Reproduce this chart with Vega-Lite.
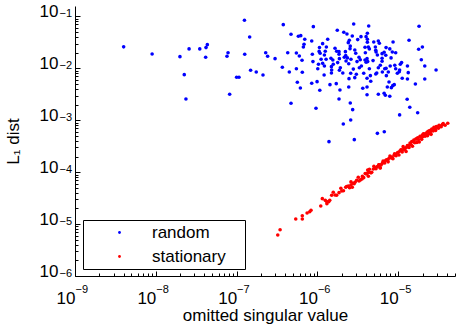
{
  "$schema": "https://vega.github.io/schema/vega-lite/v6.json",
  "width": 380,
  "height": 270,
  "autosize": {"type": "none"},
  "padding": {"left": 75, "top": 6, "right": 1, "bottom": 49},
  "background": "white",
  "config": {
    "view": {"stroke": null},
    "axis": {"labelFont": "Liberation Sans", "titleFont": "Liberation Sans", "labelColor": "black", "titleColor": "black", "grid": false, "domainColor": "black", "tickColor": "black", "labelFontSize": 17, "titleFontSize": 17, "titleFontWeight": "normal", "tickWidth": 1, "domainWidth": 1}
  },
  "data": {"values": [
    {"series":"random","sv":4.0e-9,"l1":2.6e-2},{"series":"random","sv":9.0e-9,"l1":1.89e-2},{"series":"random","sv":1.99e-8,"l1":1.68e-2},{"series":"random","sv":2.58e-8,"l1":2.37e-2},{"series":"random","sv":3.5e-8,"l1":2.37e-2},{"series":"random","sv":4.18e-8,"l1":2.51e-2},{"series":"random","sv":4.34e-8,"l1":2.86e-2},{"series":"random","sv":4.14e-8,"l1":1.64e-2},{"series":"random","sv":7.83e-8,"l1":2.0e-2},{"series":"random","sv":7.6e-8,"l1":1.71e-2},
    {"series":"random","sv":2.25e-8,"l1":7.56e-3},{"series":"random","sv":2.36e-8,"l1":2.57e-3},{"series":"random","sv":1.0e-7,"l1":6.74e-3},{"series":"random","sv":1.07e-7,"l1":6.74e-3},{"series":"random","sv":8.2e-8,"l1":3.17e-3},{"series":"random","sv":1.25e-7,"l1":8.44e-2},{"series":"random","sv":3.78e-7,"l1":6.95e-2},{"series":"random","sv":8.9e-7,"l1":6.36e-2},{"series":"random","sv":1.45e-7,"l1":4.03e-2},{"series":"random","sv":4.71e-7,"l1":4.54e-2},
    {"series":"random","sv":5.81e-7,"l1":4.15e-2},{"series":"random","sv":6.22e-7,"l1":4.27e-2},{"series":"random","sv":6.97e-7,"l1":3.64e-2},{"series":"random","sv":8.5e-7,"l1":3.37e-2},{"series":"random","sv":6.83e-7,"l1":2.91e-2},{"series":"random","sv":6.7e-7,"l1":2.58e-2},{"series":"random","sv":1.06e-6,"l1":2.53e-2},{"series":"random","sv":1.26e-7,"l1":1.87e-2},{"series":"random","sv":2.29e-7,"l1":2.0e-2},{"series":"random","sv":2.42e-7,"l1":1.71e-2},
    {"series":"random","sv":2.99e-7,"l1":1.54e-2},{"series":"random","sv":4.29e-7,"l1":2.0e-2},{"series":"random","sv":5.49e-7,"l1":1.98e-2},{"series":"random","sv":5.97e-7,"l1":1.73e-2},{"series":"random","sv":6.45e-7,"l1":1.43e-2},{"series":"random","sv":8.65e-7,"l1":1.87e-2},{"series":"random","sv":8.8e-7,"l1":1.35e-2},{"series":"random","sv":1.05e-6,"l1":2.12e-2},{"series":"random","sv":3.68e-7,"l1":1.05e-2},{"series":"random","sv":4.49e-7,"l1":8.53e-3},
    {"series":"random","sv":5.49e-7,"l1":9.85e-3},{"series":"random","sv":6.5e-7,"l1":8.41e-3},{"series":"random","sv":1.01e-6,"l1":9.85e-3},{"series":"random","sv":1.49e-7,"l1":9.19e-3},{"series":"random","sv":1.75e-7,"l1":8.53e-3},{"series":"random","sv":2.12e-7,"l1":7.47e-3},{"series":"random","sv":4.71e-7,"l1":2.13e-3},{"series":"random","sv":5.64e-7,"l1":5.4e-3},{"series":"random","sv":6.15e-7,"l1":4.19e-3},{"series":"random","sv":8.5e-7,"l1":5.16e-3},
    {"series":"random","sv":9.9e-7,"l1":5.54e-3},{"series":"random","sv":1.07e-6,"l1":3.79e-3},{"series":"random","sv":9.6e-7,"l1":1.7e-3},{"series":"random","sv":2.81e-6,"l1":7.17e-2},{"series":"random","sv":4.31e-6,"l1":6.56e-2},{"series":"random","sv":1.76e-6,"l1":5.42e-2},{"series":"random","sv":2.12e-6,"l1":4.96e-2},{"series":"random","sv":2.32e-6,"l1":4.6e-2},{"series":"random","sv":2.7e-6,"l1":4.21e-2},{"series":"random","sv":3.46e-6,"l1":4.08e-2},
    {"series":"random","sv":4.0e-6,"l1":4.08e-2},{"series":"random","sv":4.15e-6,"l1":4.74e-2},{"series":"random","sv":1.34e-6,"l1":3.64e-2},{"series":"random","sv":1.16e-6,"l1":2.99e-2},{"series":"random","sv":2.48e-6,"l1":3.48e-2},{"series":"random","sv":2.41e-6,"l1":3.13e-2},{"series":"random","sv":3.15e-6,"l1":3.58e-2},{"series":"random","sv":4.15e-6,"l1":3.64e-2},{"series":"random","sv":4.15e-6,"l1":3.18e-2},{"series":"random","sv":4.98e-6,"l1":3.22e-2},
    {"series":"random","sv":5.67e-6,"l1":3.37e-2},{"series":"random","sv":5.84e-6,"l1":3.04e-2},{"series":"random","sv":8.63e-6,"l1":3.22e-2},{"series":"random","sv":2.55e-6,"l1":2.7e-2},{"series":"random","sv":2.53e-6,"l1":2.4e-2},{"series":"random","sv":1.29e-6,"l1":2.58e-2},{"series":"random","sv":1.65e-6,"l1":2.44e-2},{"series":"random","sv":3.88e-6,"l1":2.55e-2},{"series":"random","sv":4.27e-6,"l1":2.58e-2},{"series":"random","sv":4.39e-6,"l1":2.37e-2},
    {"series":"random","sv":5.21e-6,"l1":2.58e-2},{"series":"random","sv":5.27e-6,"l1":2.23e-2},{"series":"random","sv":7.07e-6,"l1":2.51e-2},{"series":"random","sv":7.86e-6,"l1":2.37e-2},{"series":"random","sv":8.45e-6,"l1":2.07e-2},{"series":"random","sv":1.08e-6,"l1":1.95e-2},{"series":"random","sv":1.25e-6,"l1":2.14e-2},{"series":"random","sv":1.22e-6,"l1":1.81e-2},{"series":"random","sv":1.73e-6,"l1":2.14e-2},{"series":"random","sv":1.85e-6,"l1":2.1e-2},
    {"series":"random","sv":1.85e-6,"l1":1.87e-2},{"series":"random","sv":2.22e-6,"l1":2.1e-2},{"series":"random","sv":2.24e-6,"l1":1.76e-2},{"series":"random","sv":2.9e-6,"l1":2.26e-2},{"series":"random","sv":2.98e-6,"l1":1.95e-2},{"series":"random","sv":3.92e-6,"l1":2.0e-2},{"series":"random","sv":5.32e-6,"l1":2.07e-2},{"series":"random","sv":5.52e-6,"l1":1.81e-2},{"series":"random","sv":6.31e-6,"l1":1.92e-2},{"series":"random","sv":6.69e-6,"l1":2.04e-2},
    {"series":"random","sv":7.01e-6,"l1":1.79e-2},{"series":"random","sv":9.3e-6,"l1":2.0e-2},{"series":"random","sv":1.11e-6,"l1":1.5e-2},{"series":"random","sv":1.28e-6,"l1":1.5e-2},{"series":"random","sv":1.47e-6,"l1":1.57e-2},{"series":"random","sv":1.55e-6,"l1":1.45e-2},{"series":"random","sv":1.87e-6,"l1":1.54e-2},{"series":"random","sv":2.15e-6,"l1":1.64e-2},{"series":"random","sv":2.35e-6,"l1":1.59e-2},{"series":"random","sv":2.26e-6,"l1":1.39e-2},
    {"series":"random","sv":2.6e-6,"l1":1.5e-2},{"series":"random","sv":3.27e-6,"l1":1.64e-2},{"series":"random","sv":3.39e-6,"l1":1.47e-2},{"series":"random","sv":3.88e-6,"l1":1.45e-2},{"series":"random","sv":4.11e-6,"l1":1.54e-2},{"series":"random","sv":4.19e-6,"l1":1.35e-2},{"series":"random","sv":4.0e-6,"l1":1.31e-2},{"series":"random","sv":4.88e-6,"l1":1.41e-2},{"series":"random","sv":6.31e-6,"l1":1.57e-2},{"series":"random","sv":6.31e-6,"l1":1.37e-2},
    {"series":"random","sv":8.15e-6,"l1":1.59e-2},{"series":"random","sv":1.03e-6,"l1":1.2e-2},{"series":"random","sv":1.16e-6,"l1":1.25e-2},{"series":"random","sv":1.22e-6,"l1":1.11e-2},{"series":"random","sv":1.49e-6,"l1":1.08e-2},{"series":"random","sv":1.57e-6,"l1":1.2e-2},{"series":"random","sv":1.78e-6,"l1":1.29e-2},{"series":"random","sv":2.44e-6,"l1":1.23e-2},{"series":"random","sv":3.09e-6,"l1":1.35e-2},{"series":"random","sv":3.5e-6,"l1":1.11e-2},
    {"series":"random","sv":6.0e-6,"l1":1.15e-2},{"series":"random","sv":5.67e-6,"l1":1.03e-2},{"series":"random","sv":7.95e-6,"l1":1.11e-2},{"series":"random","sv":7.07e-6,"l1":1.0e-2},{"series":"random","sv":6.81e-6,"l1":9.85e-3},{"series":"random","sv":9.06e-6,"l1":1.15e-2},{"series":"random","sv":9.3e-6,"l1":9.85e-3},{"series":"random","sv":9.75e-6,"l1":8.05e-3},{"series":"random","sv":1.03e-5,"l1":8.65e-3},{"series":"random","sv":1.5e-6,"l1":9.31e-3},
    {"series":"random","sv":1.92e-6,"l1":1.03e-2},{"series":"random","sv":1.87e-6,"l1":9.19e-3},{"series":"random","sv":2.78e-6,"l1":9.68e-3},{"series":"random","sv":3.3e-6,"l1":1.03e-2},{"series":"random","sv":4.39e-6,"l1":9.85e-3},{"series":"random","sv":1.21e-6,"l1":7.47e-3},{"series":"random","sv":1.49e-6,"l1":8.16e-3},{"series":"random","sv":2.06e-6,"l1":8.16e-3},{"series":"random","sv":2.58e-6,"l1":8.05e-3},{"series":"random","sv":3.03e-6,"l1":7.7e-3},
    {"series":"random","sv":3.74e-6,"l1":8.05e-3},{"series":"random","sv":4.52e-6,"l1":7.24e-3},{"series":"random","sv":5.27e-6,"l1":7.8e-3},{"series":"random","sv":5.42e-6,"l1":8.16e-3},{"series":"random","sv":6.36e-6,"l1":8.53e-3},{"series":"random","sv":7.54e-6,"l1":8.53e-3},{"series":"random","sv":2.46e-6,"l1":6.33e-3},{"series":"random","sv":2.9e-6,"l1":6.62e-3},{"series":"random","sv":4.11e-6,"l1":6.45e-3},{"series":"random","sv":1.81e-5,"l1":6.48e-2},
    {"series":"random","sv":1.36e-5,"l1":3.48e-2},{"series":"random","sv":1.79e-5,"l1":2.33e-2},{"series":"random","sv":1.99e-5,"l1":2.58e-2},{"series":"random","sv":1.93e-5,"l1":1.47e-2},{"series":"random","sv":2.13e-5,"l1":1.11e-2},{"series":"random","sv":2.94e-5,"l1":9.31e-3},{"series":"random","sv":1.1e-5,"l1":1.29e-2},{"series":"random","sv":1.06e-5,"l1":1.2e-2},{"series":"random","sv":1.3e-5,"l1":1.11e-2},{"series":"random","sv":1.04e-5,"l1":9.31e-3},
    {"series":"random","sv":1.33e-5,"l1":8.27e-3},{"series":"random","sv":1.12e-5,"l1":6.45e-3},{"series":"random","sv":1.3e-5,"l1":6.24e-3},{"series":"random","sv":2.13e-5,"l1":6.24e-3},{"series":"random","sv":1.43e-6,"l1":4.85e-3},{"series":"random","sv":1.71e-6,"l1":5.07e-3},{"series":"random","sv":1.9e-6,"l1":3.84e-3},{"series":"random","sv":2.44e-6,"l1":4.38e-3},{"series":"random","sv":4.57e-6,"l1":5.64e-3},{"series":"random","sv":7.13e-6,"l1":7.24e-3},
    {"series":"random","sv":7.69e-6,"l1":5.47e-3},{"series":"random","sv":7.33e-6,"l1":4.38e-3},{"series":"random","sv":8.22e-6,"l1":4.25e-3},{"series":"random","sv":8.55e-6,"l1":4.64e-3},{"series":"random","sv":8.93e-6,"l1":4.85e-3},{"series":"random","sv":3.64e-6,"l1":4.14e-3},{"series":"random","sv":4.11e-6,"l1":4.38e-3},{"series":"random","sv":4.11e-6,"l1":3.11e-3},{"series":"random","sv":5.67e-6,"l1":3.17e-3},{"series":"random","sv":6.69e-6,"l1":3.31e-3},
    {"series":"random","sv":6.93e-6,"l1":3.03e-3},{"series":"random","sv":7.86e-6,"l1":2.9e-3},{"series":"random","sv":1.85e-6,"l1":2.57e-3},{"series":"random","sv":2.55e-6,"l1":2.15e-3},{"series":"random","sv":2.73e-6,"l1":1.6e-3},{"series":"random","sv":1.04e-5,"l1":1.27e-3},{"series":"random","sv":2.58e-6,"l1":1.01e-3},{"series":"random","sv":2.09e-6,"l1":8.5e-4},{"series":"random","sv":5.52e-6,"l1":5.6e-4},{"series":"random","sv":6.72e-6,"l1":6.0e-4},
    {"series":"random","sv":1.39e-6,"l1":3.87e-4},{"series":"random","sv":2.86e-6,"l1":4.23e-4},{"series":"random","sv":1.63e-5,"l1":5.0e-3},{"series":"random","sv":1.29e-5,"l1":2.54e-3},{"series":"random","sv":1.39e-5,"l1":1.78e-3},{"series":"random","sv":1.74e-5,"l1":1.4e-3},
    {"series":"stationary","sv":3.23e-7,"l1":6.17e-6},{"series":"stationary","sv":3.45e-7,"l1":7.8e-6},{"series":"stationary","sv":5.39e-7,"l1":1.25e-5},{"series":"stationary","sv":6.5e-7,"l1":1.25e-5},{"series":"stationary","sv":6.5e-7,"l1":1.45e-5},{"series":"stationary","sv":7.45e-7,"l1":1.64e-5},{"series":"stationary","sv":8.03e-7,"l1":1.73e-5},{"series":"stationary","sv":8.33e-7,"l1":1.85e-5},{"series":"stationary","sv":1.1e-6,"l1":2.23e-5},{"series":"stationary","sv":1.15e-6,"l1":3.09e-5},
    {"series":"stationary","sv":1.25e-6,"l1":2.87e-5},{"series":"stationary","sv":1.38e-6,"l1":2.7e-5},{"series":"stationary","sv":1.31e-6,"l1":2.47e-5},{"series":"stationary","sv":1.42e-6,"l1":2.87e-5},{"series":"stationary","sv":1.57e-6,"l1":4.1e-5},{"series":"stationary","sv":1.73e-6,"l1":3.59e-5},{"series":"stationary","sv":1.85e-6,"l1":4.03e-5},{"series":"stationary","sv":2.0e-6,"l1":4.34e-5},{"series":"stationary","sv":2.24e-6,"l1":5.11e-5},{"series":"stationary","sv":2.41e-6,"l1":5.42e-5},
    {"series":"stationary","sv":2.6e-6,"l1":5.67e-5},{"series":"stationary","sv":2.76e-6,"l1":6.1e-5},{"series":"stationary","sv":2.92e-6,"l1":6.39e-5},{"series":"stationary","sv":2.7e-6,"l1":5.11e-5},{"series":"stationary","sv":3.06e-6,"l1":6.98e-5},{"series":"stationary","sv":3.27e-6,"l1":6.76e-5},{"series":"stationary","sv":3.56e-6,"l1":7.4e-5},{"series":"stationary","sv":3.74e-6,"l1":7.84e-5},{"series":"stationary","sv":4.07e-6,"l1":9.24e-5},{"series":"stationary","sv":4.27e-6,"l1":8.34e-5},
    {"series":"stationary","sv":4.36e-6,"l1":1.0e-4},{"series":"stationary","sv":4.7e-6,"l1":9.96e-5},{"series":"stationary","sv":4.19e-6,"l1":1.1e-4},{"series":"stationary","sv":4.92e-6,"l1":1.15e-4},{"series":"stationary","sv":5.17e-6,"l1":1.22e-4},{"series":"stationary","sv":5.52e-6,"l1":1.28e-4},{"series":"stationary","sv":5.74e-6,"l1":1.38e-4},{"series":"stationary","sv":6.13e-6,"l1":1.38e-4},{"series":"stationary","sv":6.36e-6,"l1":1.48e-4},{"series":"stationary","sv":5.96e-6,"l1":1.22e-4},
    {"series":"stationary","sv":6.62e-6,"l1":1.59e-4},{"series":"stationary","sv":7.01e-6,"l1":1.69e-4},{"series":"stationary","sv":7.42e-6,"l1":1.74e-4},{"series":"stationary","sv":7.69e-6,"l1":1.85e-4},{"series":"stationary","sv":8.15e-6,"l1":1.96e-4},{"series":"stationary","sv":8.45e-6,"l1":1.9e-4},{"series":"stationary","sv":8.88e-6,"l1":2.12e-4},{"series":"stationary","sv":9.3e-6,"l1":2.21e-4},{"series":"stationary","sv":1.0e-5,"l1":2.42e-4},{"series":"stationary","sv":1.05e-5,"l1":2.56e-4},
    {"series":"stationary","sv":1.1e-5,"l1":2.68e-4},{"series":"stationary","sv":1.17e-5,"l1":2.76e-4},{"series":"stationary","sv":1.21e-5,"l1":2.89e-4},{"series":"stationary","sv":1.27e-5,"l1":3.02e-4},{"series":"stationary","sv":1.33e-5,"l1":3.24e-4},{"series":"stationary","sv":1.41e-5,"l1":3.45e-4},{"series":"stationary","sv":1.47e-5,"l1":3.87e-4},{"series":"stationary","sv":1.56e-5,"l1":4.17e-4},{"series":"stationary","sv":1.65e-5,"l1":4.36e-4},{"series":"stationary","sv":1.74e-5,"l1":4.62e-4},
    {"series":"stationary","sv":1.86e-5,"l1":4.91e-4},{"series":"stationary","sv":1.99e-5,"l1":5.21e-4},{"series":"stationary","sv":2.1e-5,"l1":5.45e-4},{"series":"stationary","sv":2.27e-5,"l1":5.87e-4},{"series":"stationary","sv":2.45e-5,"l1":6.31e-4},{"series":"stationary","sv":2.6e-5,"l1":6.81e-4},{"series":"stationary","sv":2.77e-5,"l1":7.34e-4},{"series":"stationary","sv":2.96e-5,"l1":7.55e-4},{"series":"stationary","sv":3.14e-5,"l1":7.02e-4},{"series":"stationary","sv":3.32e-5,"l1":7.77e-4},
    {"series":"stationary","sv":3.52e-5,"l1":8.24e-4},{"series":"stationary","sv":4.1e-5,"l1":8.77e-4},
    {"series":"stationary","sv":2.85e-6,"l1":6.0e-5},{"series":"stationary","sv":3.2e-6,"l1":8.0e-5},{"series":"stationary","sv":3.4e-6,"l1":7.1e-5},{"series":"stationary","sv":3.9e-6,"l1":9.4e-5},{"series":"stationary","sv":4.6e-6,"l1":9.7e-5},{"series":"stationary","sv":5.0e-6,"l1":1.3e-4},{"series":"stationary","sv":5.3e-6,"l1":1.17e-4},{"series":"stationary","sv":5.8e-6,"l1":1.39e-4},{"series":"stationary","sv":6.0e-6,"l1":1.2e-4},{"series":"stationary","sv":6.5e-6,"l1":1.63e-4},
    {"series":"stationary","sv":6.8e-6,"l1":1.5e-4},{"series":"stationary","sv":7.2e-6,"l1":1.73e-4},{"series":"stationary","sv":7.5e-6,"l1":1.58e-4},{"series":"stationary","sv":7.9e-6,"l1":2.05e-4},{"series":"stationary","sv":8.2e-6,"l1":1.89e-4},{"series":"stationary","sv":8.6e-6,"l1":1.81e-4},{"series":"stationary","sv":9.0e-6,"l1":2.25e-4},{"series":"stationary","sv":9.4e-6,"l1":2.07e-4},{"series":"stationary","sv":9.8e-6,"l1":2.35e-4},{"series":"stationary","sv":1.02e-5,"l1":2.14e-4},
    {"series":"stationary","sv":1.08e-5,"l1":2.7e-4},{"series":"stationary","sv":1.12e-5,"l1":2.46e-4},{"series":"stationary","sv":1.15e-5,"l1":3.1e-4},{"series":"stationary","sv":1.2e-5,"l1":2.76e-4},{"series":"stationary","sv":1.25e-5,"l1":2.5e-4},{"series":"stationary","sv":1.3e-5,"l1":3.25e-4},{"series":"stationary","sv":1.36e-5,"l1":2.99e-4},{"series":"stationary","sv":1.4e-5,"l1":3.64e-4},{"series":"stationary","sv":1.45e-5,"l1":3.34e-4},{"series":"stationary","sv":1.5e-5,"l1":3.15e-4},
    {"series":"stationary","sv":1.55e-5,"l1":3.88e-4},{"series":"stationary","sv":1.6e-5,"l1":3.68e-4},{"series":"stationary","sv":1.68e-5,"l1":4.37e-4},{"series":"stationary","sv":1.7e-5,"l1":3.74e-4},{"series":"stationary","sv":1.78e-5,"l1":4.27e-4},{"series":"stationary","sv":1.82e-5,"l1":3.82e-4},{"series":"stationary","sv":1.9e-5,"l1":4.75e-4},{"series":"stationary","sv":1.95e-5,"l1":4.29e-4},{"series":"stationary","sv":2.02e-5,"l1":4.85e-4},{"series":"stationary","sv":2.05e-5,"l1":5.5e-4},
    {"series":"stationary","sv":2.15e-5,"l1":4.95e-4},{"series":"stationary","sv":2.2e-5,"l1":5.5e-4},{"series":"stationary","sv":2.3e-5,"l1":5.06e-4},{"series":"stationary","sv":2.35e-5,"l1":6.1e-4},{"series":"stationary","sv":2.4e-5,"l1":5.52e-4},{"series":"stationary","sv":2.5e-5,"l1":6.0e-4},{"series":"stationary","sv":2.55e-5,"l1":5.36e-4},{"series":"stationary","sv":2.65e-5,"l1":6.6e-4},{"series":"stationary","sv":2.7e-5,"l1":6.2e-4},{"series":"stationary","sv":2.85e-5,"l1":6.84e-4},
    {"series":"stationary","sv":2.9e-5,"l1":6.38e-4},{"series":"stationary","sv":3.05e-5,"l1":7.3e-4},{"series":"stationary","sv":3.2e-5,"l1":8.0e-4},{"series":"stationary","sv":3.4e-5,"l1":7.5e-4},{"series":"stationary","sv":3.6e-5,"l1":8.6e-4},{"series":"stationary","sv":3.8e-5,"l1":8.0e-4},
    {"series":"stationary","sv":1.3e-6,"l1":2.73e-5},{"series":"stationary","sv":1.5e-6,"l1":3.6e-5},{"series":"stationary","sv":1.65e-6,"l1":3.63e-5},{"series":"stationary","sv":1.95e-6,"l1":4.9e-5},{"series":"stationary","sv":2.1e-6,"l1":4.4e-5},{"series":"stationary","sv":2.3e-6,"l1":5.3e-5},{"series":"stationary","sv":2.5e-6,"l1":5.0e-5},{"series":"stationary","sv":2.6e-6,"l1":6.5e-5},{"series":"stationary","sv":4.2e-6,"l1":9.7e-5},{"series":"stationary","sv":4.4e-6,"l1":1.14e-4},{"series":"stationary","sv":3.6e-6,"l1":8.3e-5}
  ]},
  "resolve": {"axis": {"x": "independent", "y": "independent"}},
  "layer": [
    {
      "mark": {"type": "circle", "size": 13, "opacity": 1},
      "encoding": {
        "x": {"field": "sv", "type": "quantitative", "scale": {"type": "log", "domain": [1e-9, 5.04e-5], "nice": false},
          "axis": {"orient": "bottom", "values": [1e-9, 1e-8, 1e-7, 1e-6, 1e-5], "labelExpr": "'10'", "ticks": false, "domain": true, "labelFlush": false, "labelOverlap": false, "labelAlign": "right", "labelDx": 5, "labelBaseline": "alphabetic", "labelPadding": 27, "title": "omitted singular value", "titleBaseline": "alphabetic", "titleY": 44, "titleX": 190}},
        "y": {"field": "l1", "type": "quantitative", "scale": {"type": "log", "domain": [1e-6, 0.159], "nice": false},
          "axis": {"orient": "left", "values": [1e-6, 1e-5, 1e-4, 1e-3, 1e-2, 1e-1], "labelExpr": "'10'", "ticks": false, "domain": true, "labelFlush": false, "labelOverlap": false, "labelAlign": "right", "labelBaseline": "alphabetic", "labelDy": 6, "labelPadding": 17, "title": "L₁ dist", "titleBaseline": "alphabetic", "titleX": -57, "titleY": 135, "titleAngle": 270}},
        "color": {"field": "series", "type": "nominal", "scale": {"domain": ["random", "stationary"], "range": ["#0000ff", "#ff0000"]},
          "legend": {"orient": "none", "legendX": 8, "legendY": 214, "title": " ", "titleOrient": "right", "titleFontSize": 10, "titlePadding": 15, "direction": "vertical", "strokeColor": "black", "fillColor": "white", "padding": 4, "rowPadding": 6, "symbolType": "circle", "symbolSize": 8, "symbolStrokeWidth": 0, "symbolOffset": 24, "labelOffset": 24, "labelFontSize": 17, "labelFont": "Liberation Sans", "labelColor": "black"}}
      }
    },
    {
      "mark": {"type": "point", "opacity": 0},
      "encoding": {
        "x": {"field": "sv", "type": "quantitative", "axis": {"orient": "bottom", "values": [1e-9, 1e-8, 1e-7, 1e-6, 1e-5], "labelExpr": "'−' + format(-log(datum.value)/LN10, '.0f')", "labelFontSize": 11, "ticks": false, "domain": false, "labelFlush": false, "labelOverlap": false, "labelAlign": "left", "labelDx": 5, "labelBaseline": "alphabetic", "labelPadding": 16, "title": null}},
        "y": {"field": "l1", "type": "quantitative", "axis": {"orient": "left", "values": [1e-6, 1e-5, 1e-4, 1e-3, 1e-2, 1e-1], "labelExpr": "'−' + format(-log(datum.value)/LN10, '.0f')", "labelFontSize": 11, "ticks": false, "domain": false, "labelFlush": false, "labelOverlap": false, "labelAlign": "left", "labelBaseline": "alphabetic", "labelDy": -2, "labelPadding": 16, "title": null}}
      }
    },
    {
      "mark": {"type": "point", "opacity": 0},
      "encoding": {
        "x": {"field": "sv", "type": "quantitative", "axis": {"orient": "bottom", "values": [1e-9, 1e-8, 1e-7, 1e-6, 1e-5], "labels": false, "ticks": true, "tickSize": -5, "domain": false, "title": null}},
        "y": {"field": "l1", "type": "quantitative", "axis": {"orient": "left", "values": [1e-6, 1e-5, 1e-4, 1e-3, 1e-2, 1e-1], "labels": false, "ticks": true, "tickSize": -5, "domain": false, "title": null}}
      }
    },
    {
      "mark": {"type": "point", "opacity": 0},
      "encoding": {
        "x": {"field": "sv", "type": "quantitative", "axis": {"orient": "bottom", "values": [2e-9,3e-9,4e-9,5e-9,6e-9,7e-9,8e-9,9e-9,2e-8,3e-8,4e-8,5e-8,6e-8,7e-8,8e-8,9e-8,2e-7,3e-7,4e-7,5e-7,6e-7,7e-7,8e-7,9e-7,2e-6,3e-6,4e-6,5e-6,6e-6,7e-6,8e-6,9e-6,2e-5,3e-5,4e-5,5e-5], "labels": false, "ticks": true, "tickSize": -3, "domain": false, "title": null}},
        "y": {"field": "l1", "type": "quantitative", "axis": {"orient": "left", "values": [2e-6,3e-6,4e-6,5e-6,6e-6,7e-6,8e-6,9e-6,2e-5,3e-5,4e-5,5e-5,6e-5,7e-5,8e-5,9e-5,2e-4,3e-4,4e-4,5e-4,6e-4,7e-4,8e-4,9e-4,2e-3,3e-3,4e-3,5e-3,6e-3,7e-3,8e-3,9e-3,2e-2,3e-2,4e-2,5e-2,6e-2,7e-2,8e-2,9e-2], "labels": false, "ticks": true, "tickSize": -3, "domain": false, "title": null}}
      }
    }
  ]
}
